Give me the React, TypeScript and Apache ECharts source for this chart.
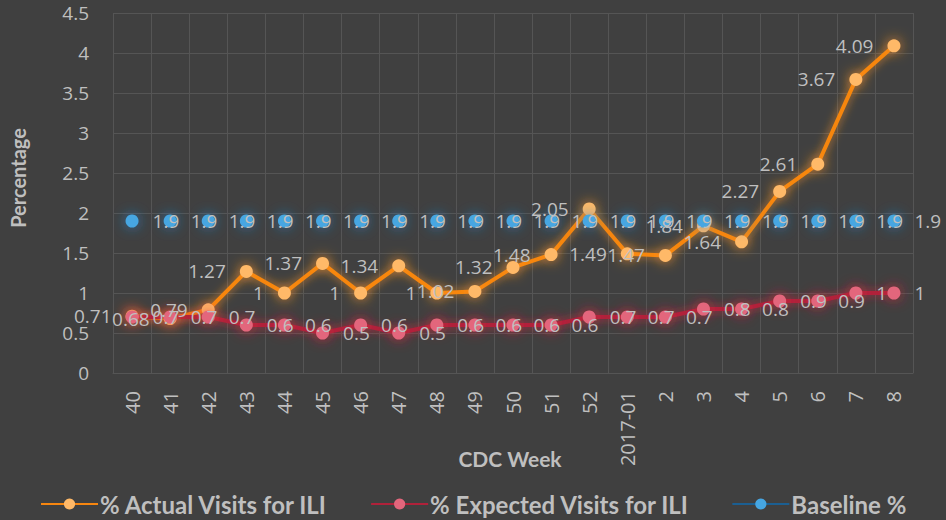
import React, { useEffect, useRef } from "react";
import * as echarts from "echarts";

const weeks = ["40", "41", "42", "43", "44", "45", "46", "47", "48", "49", "50", "51", "52", "2017-01", "2", "3", "4", "5", "6", "7", "8"];
const actualVisits = [0.71, 0.68, 0.79, 1.27, 1, 1.37, 1, 1.34, 1, 1.02, 1.32, 1.48, 2.05, 1.49, 1.47, 1.84, 1.64, 2.27, 2.61, 3.67, 4.09];
const expectedVisits = [0.7, 0.7, 0.7, 0.6, 0.6, 0.5, 0.6, 0.5, 0.6, 0.6, 0.6, 0.6, 0.7, 0.7, 0.7, 0.8, 0.8, 0.9, 0.9, 1, 1];
const baseline = [1.9, 1.9, 1.9, 1.9, 1.9, 1.9, 1.9, 1.9, 1.9, 1.9, 1.9, 1.9, 1.9, 1.9, 1.9, 1.9, 1.9, 1.9, 1.9, 1.9, 1.9];
const seriesNames = ["% Actual Visits for ILI", "% Expected Visits for ILI", "Baseline %"];

const TEXT = "#bfbfbf";
const GRID = "#555555";
const LABEL_FONT = "'Open Sans', 'Noto Sans', sans-serif";
const TITLE_FONT = "Lato, 'Open Sans', sans-serif";

export default function App() {
  const ref = useRef<HTMLDivElement>(null);
  useEffect(() => {
    if (!ref.current) return;
    const chart = echarts.init(ref.current, undefined, { renderer: "svg" });
    const mk = (name: string, data: number[], line: string, marker: string, glow: string, pos: string, width: number) => ({
      name,
      type: "line",
      data,
      symbol: "circle",
      symbolSize: 13,
      lineStyle: { color: line, width, shadowBlur: 10, shadowColor: glow },
      itemStyle: { color: marker, borderWidth: 0, shadowBlur: 14, shadowColor: glow },
      label: {
        show: true,
        position: pos,
        distance: 14,
        color: TEXT,
        fontSize: 19,
        fontFamily: LABEL_FONT,
      },
      emphasis: { disabled: true },
    });
    chart.setOption({
      animation: false,
      backgroundColor: "#404040",
      grid: { left: 113, right: 33, top: 13, bottom: 147, containLabel: false },
      xAxis: {
        type: "category",
        data: weeks,
        boundaryGap: true,
        axisLine: { show: true, lineStyle: { color: GRID, width: 1 } },
        axisTick: { show: false },
        splitLine: { show: true, interval: 0, lineStyle: { color: GRID, width: 1 } },
        axisLabel: {
          rotate: 90,
          interval: 0,
          margin: 18,
          color: TEXT,
          fontSize: 20,
          fontFamily: LABEL_FONT,
        },
      },
      yAxis: {
        type: "value",
        min: 0,
        max: 4.5,
        interval: 0.5,
        axisLine: { show: false },
        axisTick: { show: false },
        splitLine: { show: true, lineStyle: { color: GRID, width: 1 } },
        axisLabel: { color: TEXT, fontSize: 19, fontFamily: LABEL_FONT, margin: 24 },
      },
      legend: {
        data: seriesNames,
        left: 35,
        bottom: -1,
        itemWidth: 57,
        itemHeight: 14,
        itemGap: 42,
        textStyle: { color: TEXT, fontSize: 24, fontWeight: "bold", fontFamily: TITLE_FONT, padding: [0, 0, 0, -3] },
      },
      graphic: [
        {
          type: "text",
          x: 18,
          y: 178,
          rotation: Math.PI / 2,
          style: {
            text: "Percentage",
            fill: TEXT,
            font: `bold 20px ${TITLE_FONT}`,
            align: "center",
            verticalAlign: "middle",
          },
        },
        {
          type: "text",
          x: 510,
          y: 458,
          style: {
            text: "CDC Week",
            fill: TEXT,
            font: `bold 21px ${TITLE_FONT}`,
            align: "center",
            verticalAlign: "middle",
          },
        },
      ],
      series: [
        mk(seriesNames[0], actualVisits, "#f7860f", "#ffb968", "rgba(255,150,40,0.85)", "left", 4),
        mk(seriesNames[1], expectedVisits, "#b0213a", "#e3667c", "rgba(220,40,60,0.85)", "right", 4),
        mk(seriesNames[2], baseline, "#1b5f92", "#46a6e2", "rgba(40,130,210,0.85)", "right", 5),
      ],
    });
    return () => chart.dispose();
  }, []);
  return <div ref={ref} style={{ width: 946, height: 520, position: "absolute", left: 0, top: 0 }} />;
}
